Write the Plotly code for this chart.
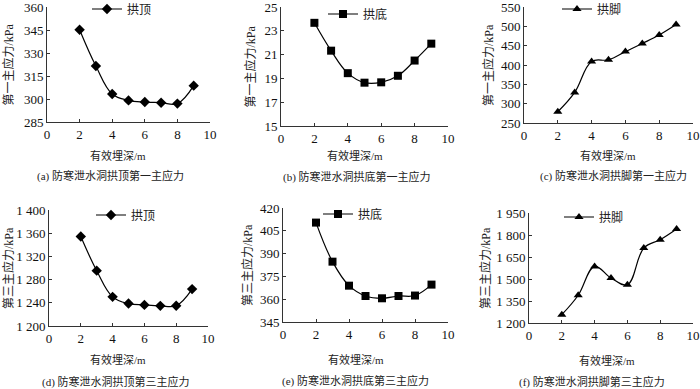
import plotly.graph_objects as go

depth = [2, 3, 4, 5, 6, 7, 8, 9]

# Panel values
vault_s1 = [345.2, 321.5, 303.3, 299.1, 298.0, 297.6, 297.0, 308.7]
floor_s1 = [23.67, 21.33, 19.44, 18.64, 18.67, 19.22, 20.5, 21.92]
foot_s1 = [279, 329, 409, 413.5, 434.6, 455.6, 477.5, 504.5]
vault_s3 = [1354.3, 1295.4, 1250.3, 1238.7, 1236.4, 1234.7, 1235.0, 1263.6]
floor_s3 = [410.4, 384.7, 368.9, 362.1, 360.6, 362.1, 362.4, 369.6]
foot_s3 = [1257, 1389, 1586, 1507, 1461, 1711, 1768, 1841]

x_ticks = [0, 2, 4, 6, 8, 10]
yt_a = [285, 300, 315, 330, 345, 360]
yt_b = [15, 17, 19, 21, 23, 25]
yt_c = [250, 300, 350, 400, 450, 500, 550]
yt_d = [1200, 1240, 1280, 1320, 1360, 1400]
yt_d_text = ["1 200", "1 240", "1 280", "1 320", "1 360", "1 400"]
yt_e = [345, 360, 375, 390, 405, 420]
yt_f = [1200, 1350, 1500, 1650, 1800, 1950]
yt_f_text = ["1 200", "1 350", "1 500", "1 650", "1 800", "1 950"]

x_title = "有效埋深/m"
captions = ["(a) 防寒泄水洞拱顶第一主应力", "(b) 防寒泄水洞拱底第一主应力", "(c) 防寒泄水洞拱脚第一主应力",
            "(d) 防寒泄水洞拱顶第三主应力", "(e) 防寒泄水洞拱底第三主应力", "(f) 防寒泄水洞拱脚第三主应力"]
y_titles = ["第一主应力/kPa", "第一主应力/kPa", "第一主应力/kPa",
            "第三主应力/kPa", "第三主应力/kPa", "第三主应力/kPa"]
names = ["拱顶", "拱底", "拱脚", "拱顶", "拱底", "拱脚"]

W, H = 700, 389
FONT = "Liberation Serif, Times New Roman, Noto Sans CJK SC, serif"

panels = [
    dict(y=vault_s1, sym="diamond", yt=yt_a, ytt=None, px=(47, 210), py=(7, 122), ytx=8,
         xt=(118, 155), cap=(110, 176), leg=(87, 9)),
    dict(y=floor_s1, sym="square", yt=yt_b, ytt=None, px=(281, 448), py=(7, 126), ytx=250,
         xt=(355, 155), cap=(357, 177), leg=(323, 14)),
    dict(y=foot_s1, sym="triangle-up", yt=yt_c, ytt=None, px=(524, 693), py=(7, 123), ytx=488,
         xt=(608, 155), cap=(613, 176), leg=(557, 9)),
    dict(y=vault_s3, sym="diamond", yt=yt_d, ytt=yt_d_text, px=(49, 208), py=(210, 326), ytx=8,
         xt=(118, 359), cap=(116, 382), leg=(91, 215)),
    dict(y=floor_s3, sym="square", yt=yt_e, ytt=None, px=(283, 448), py=(208, 322), ytx=247,
         xt=(356, 359), cap=(355, 381), leg=(318, 214)),
    dict(y=foot_s3, sym="triangle-up", yt=yt_f, ytt=yt_f_text, px=(529, 693), py=(213, 323), ytx=485,
         xt=(607, 360), cap=(592, 382), leg=(559, 217)),
]

fig = go.Figure()
layout = dict(width=W, height=H, margin=dict(l=0, r=0, t=0, b=0, autoexpand=False),
              paper_bgcolor="white", plot_bgcolor="white",
              font=dict(family=FONT, size=12, color="#222"))
annotations = []

for i, p in enumerate(panels):
    n = i + 1
    xa = "x" if n == 1 else f"x{n}"
    ya = "y" if n == 1 else f"y{n}"
    lg = "legend" if n == 1 else f"legend{n}"
    fig.add_trace(go.Scatter(
        x=depth, y=p["y"], mode="lines+markers", name=names[i],
        line=dict(color="black", width=1.2, shape="spline", smoothing=1.1),
        marker=dict(symbol=p["sym"], size=8, color="black"),
        xaxis=xa, yaxis=ya, legend=lg, cliponaxis=False, showlegend=True))
    xd = [p["px"][0] / W, p["px"][1] / W]
    yd = [1 - p["py"][1] / H, 1 - p["py"][0] / H]
    xkey = "xaxis" if n == 1 else f"xaxis{n}"
    ykey = "yaxis" if n == 1 else f"yaxis{n}"
    layout[xkey] = dict(domain=xd, range=[0, 10], tickvals=x_ticks, anchor=ya,
                        showgrid=False, zeroline=False, showline=True, linecolor="#333", linewidth=1,
                        ticks="inside", ticklen=3, tickcolor="#333", ticklabeloverflow="allow",
                        tickfont=dict(family=FONT, size=13, color="#111"))
    yax = dict(domain=yd, range=[p["yt"][0], p["yt"][-1]], tickvals=p["yt"], anchor=xa,
               showgrid=False, zeroline=False, showline=True, linecolor="#333", linewidth=1,
               ticks="inside", ticklen=3, tickcolor="#333", ticklabeloverflow="allow",
               tickfont=dict(family=FONT, size=13, color="#111"))
    if p["ytt"]:
        yax["ticktext"] = p["ytt"]
    layout[ykey] = yax
    layout[lg] = dict(x=p["leg"][0] / W, y=1 - p["leg"][1] / H, xanchor="left", yanchor="middle",
                      bgcolor="rgba(0,0,0,0)", font=dict(family=FONT, size=12, color="#222"),
                      itemwidth=30, tracegroupgap=0)
    annotations.append(dict(x=p["xt"][0] / W, y=1 - p["xt"][1] / H, xref="paper", yref="paper", text=x_title,
                            showarrow=False, xanchor="center", yanchor="middle",
                            font=dict(family=FONT, size=11, color="#222")))
    annotations.append(dict(x=p["cap"][0] / W, y=1 - p["cap"][1] / H, xref="paper", yref="paper", text=captions[i],
                            showarrow=False, xanchor="center", yanchor="middle",
                            font=dict(family=FONT, size=11, color="#222")))
    cy = (p["py"][0] + p["py"][1]) / 2
    annotations.append(dict(x=p["ytx"] / W, y=1 - cy / H, xref="paper", yref="paper", text=y_titles[i],
                            showarrow=False, xanchor="center", yanchor="middle", textangle=-90,
                            font=dict(family=FONT, size=12, color="#222")))

layout["annotations"] = annotations
fig.update_layout(**layout)
fig.write_html("out.html", config={"displayModeBar": False},
               post_script="document.body.style.margin='0px';document.body.style.overflow='hidden';")
